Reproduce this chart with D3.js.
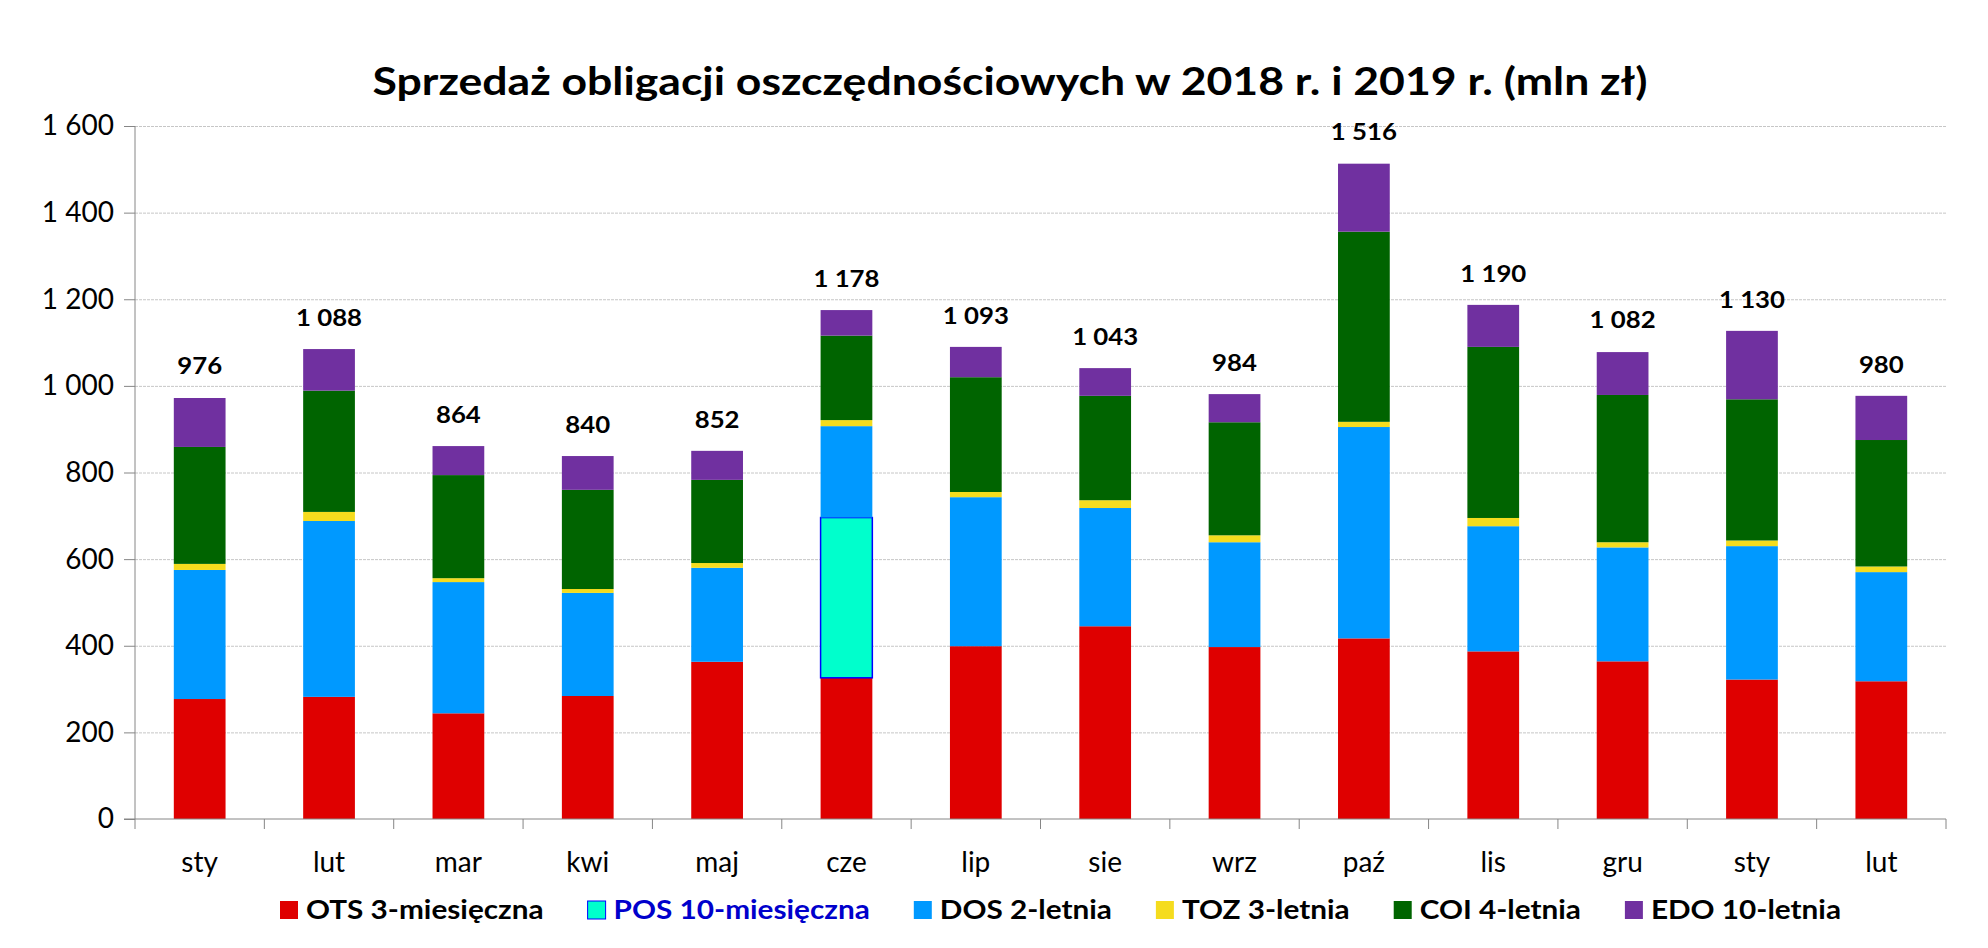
<!DOCTYPE html>
<html>
<head>
<meta charset="utf-8">
<script src="https://cdn.jsdelivr.net/npm/d3@7"></script>
<style>
  body { margin: 0; background: #fff; }
  text { font-family: Lato, "Open Sans", sans-serif; }
</style>
</head>
<body>
<div id="maindiv"></div>
<script>
// ---- data (mln zl) ----
var months = ["sty", "lut", "mar", "kwi", "maj", "cze", "lip", "sie", "wrz", "paź", "lis", "gru", "sty", "lut"];
var ots = [277, 282, 244, 284, 363, 326, 399, 445, 397, 417, 387, 364, 322, 318];
var pos = [0, 0, 0, 0, 0, 370, 0, 0, 0, 0, 0, 0, 0, 0];
var dos = [298, 406, 303, 238, 217, 211, 344, 273, 242, 488, 289, 263, 308, 252];
var toz = [14, 21, 9, 9, 11, 14, 12, 18, 16, 12, 19, 12, 13, 13];
var coi = [270, 280, 238, 229, 192, 195, 265, 241, 261, 439, 395, 340, 326, 292];
var edo = [113, 96, 67, 78, 67, 59, 70, 64, 65, 157, 97, 99, 158, 102];
var totals = [976, 1088, 864, 840, 852, 1178, 1093, 1043, 984, 1516, 1190, 1082, 1130, 980];
var yTicks = [0, 200, 400, 600, 800, 1000, 1200, 1400, 1600];

var seriesNames = ["OTS 3-miesięczna", "POS 10-miesięczna", "DOS 2-letnia", "TOZ 3-letnia", "COI 4-letnia", "EDO 10-letnia"];
var seriesKeys = ["ots", "pos", "dos", "toz", "coi", "edo"];
var seriesColors = ["#df0000", "#00ffcc", "#0099ff", "#f5dc1e", "#006400", "#7030a0"];

var width = 1988;
var height = 948;
var margin = { top: 126, bottom: 129, left: 135, right: 42 };

var pl = d3.formatLocale({ decimal: ",", thousands: "\u00a0", grouping: [3], currency: ["", " zł"] });
var fmt = pl.format(",d");

// rows for the stack
var rows = months.map(function (m, i) {
    return { i: i, ots: ots[i], pos: pos[i], dos: dos[i], toz: toz[i], coi: coi[i], edo: edo[i] };
});
var stacked = d3.stack().keys(seriesKeys)(rows);

var svg = d3.select("#maindiv")
    .append("svg")
    .attr("width", width)
    .attr("height", height);

var x = d3.scaleBand()
    .domain(d3.range(months.length))
    .range([margin.left, width - margin.right])
    .paddingInner(0.6)
    .paddingOuter(0.3);

var y = d3.scaleLinear()
    .domain([0, 1600])
    .range([height - margin.bottom, margin.top]);

var color = d3.scaleOrdinal().domain(seriesKeys).range(seriesColors);

// stretch bold text sideways, the original is wider than Lato
function widen(sel, k) {
    sel.each(function () {
        var w = this.getComputedTextLength();
        d3.select(this).attr("textLength", w * k).attr("lengthAdjust", "spacingAndGlyphs");
    });
}

// gridlines
svg.append("g")
    .selectAll("line")
    .data(yTicks.slice(1))
    .enter()
    .append("line")
    .attr("x1", margin.left)
    .attr("x2", width - margin.right)
    .attr("y1", d => y(d) + 0.5)
    .attr("y2", d => y(d) + 0.5)
    .attr("stroke", "#c6c6c6")
    .attr("stroke-width", 1)
    .attr("stroke-dasharray", "3,1");

// bars
svg.append("g")
    .selectAll("g")
    .data(stacked)
    .enter()
    .append("g")
    .attr("fill", d => color(d.key))
    .selectAll("rect")
    .data(d => d.map(function (p) { p.key = d.key; return p; }).filter(p => p[1] > p[0]))
    .enter()
    .append("rect")
    .attr("x", d => x(d.data.i))
    .attr("y", d => y(d[1]))
    .attr("width", x.bandwidth())
    .attr("height", d => y(d[0]) - y(d[1]))
    .attr("stroke", d => d.key == "pos" ? "#0000ff" : "none")
    .attr("stroke-width", 1.5);

// value labels
svg.append("g")
    .selectAll("text")
    .data(totals)
    .enter()
    .append("text")
    .attr("x", (d, i) => x(i) + x.bandwidth() / 2)
    .attr("y", d => y(d) - 22)
    .attr("text-anchor", "middle")
    .attr("font-size", "23px")
    .attr("font-weight", "bold")
    .attr("fill", "#000")
    .text(d => fmt(d))
    .call(widen, 1.12);

// y axis
var yAxis = svg.append("g")
    .attr("transform", `translate(${margin.left},0)`)
    .call(d3.axisLeft(y).tickValues(yTicks).tickFormat(fmt).tickSize(11).tickPadding(10));
yAxis.select(".domain").attr("d", `M0,${y(1600)}V${y(0) + 10}`);

// x axis, ticks on category boundaries
var step = x.step();
var xAxis = svg.append("g")
    .attr("transform", `translate(0,${height - margin.bottom})`);
xAxis.append("line")
    .attr("x1", margin.left - 11)
    .attr("x2", width - margin.right)
    .attr("stroke", "#868686");
xAxis.selectAll(".bnd")
    .data(d3.range(1, months.length + 1))
    .enter()
    .append("line")
    .attr("class", "bnd")
    .attr("x1", i => x(i - 1) + x.bandwidth() / 2 + step / 2)
    .attr("x2", i => x(i - 1) + x.bandwidth() / 2 + step / 2)
    .attr("y1", 0)
    .attr("y2", 10)
    .attr("stroke", "#868686");
xAxis.selectAll(".lbl")
    .data(months)
    .enter()
    .append("text")
    .attr("class", "lbl")
    .attr("x", (d, i) => x(i) + x.bandwidth() / 2)
    .attr("y", 53)
    .attr("text-anchor", "middle")
    .attr("font-size", "28px")
    .attr("fill", "#000")
    .text(d => d);

yAxis.selectAll("line").attr("stroke", "#868686");
yAxis.select(".domain").attr("stroke", "#868686");
yAxis.selectAll("text").attr("font-size", "28px").attr("fill", "#000").attr("font-family", "Lato, sans-serif");

// title
svg.append("text")
    .attr("x", 1010)
    .attr("y", 95)
    .attr("text-anchor", "middle")
    .attr("font-size", "39px")
    .attr("font-weight", "bold")
    .attr("fill", "#000")
    .attr("textLength", 1275)
    .attr("lengthAdjust", "spacingAndGlyphs")
    .text("Sprzedaż obligacji oszczędnościowych w 2018 r. i 2019 r. (mln zł)");

// legend
var legend = svg.append("g").attr("transform", "translate(0,901)");
var items = legend.selectAll("g")
    .data(seriesKeys)
    .enter()
    .append("g");
items.append("rect")
    .attr("width", 18)
    .attr("height", 18)
    .attr("fill", d => color(d))
    .attr("stroke", d => d == "pos" ? "#0000ff" : "none")
    .attr("stroke-width", 1);
var ltext = items.append("text")
    .attr("x", 26)
    .attr("y", 18)
    .attr("font-size", "26px")
    .attr("font-weight", "bold")
    .attr("fill", d => d == "pos" ? "#0000cc" : "#000")
    .text((d, i) => seriesNames[i]);

// fit the legend to the span it has in the original (280 .. 1841)
var natural = 0;
ltext.each(function () { natural += this.getComputedTextLength(); });
var k = (1841 - 280 - 6 * 26 - 5 * 44) / natural;
ltext.call(widen, k);

var cur = 280;
items.attr("transform", function () {
    var t = `translate(${cur},0)`;
    cur += 26 + (+d3.select(this).select("text").attr("textLength")) + 44;
    return t;
});
</script>
</body>
</html>
